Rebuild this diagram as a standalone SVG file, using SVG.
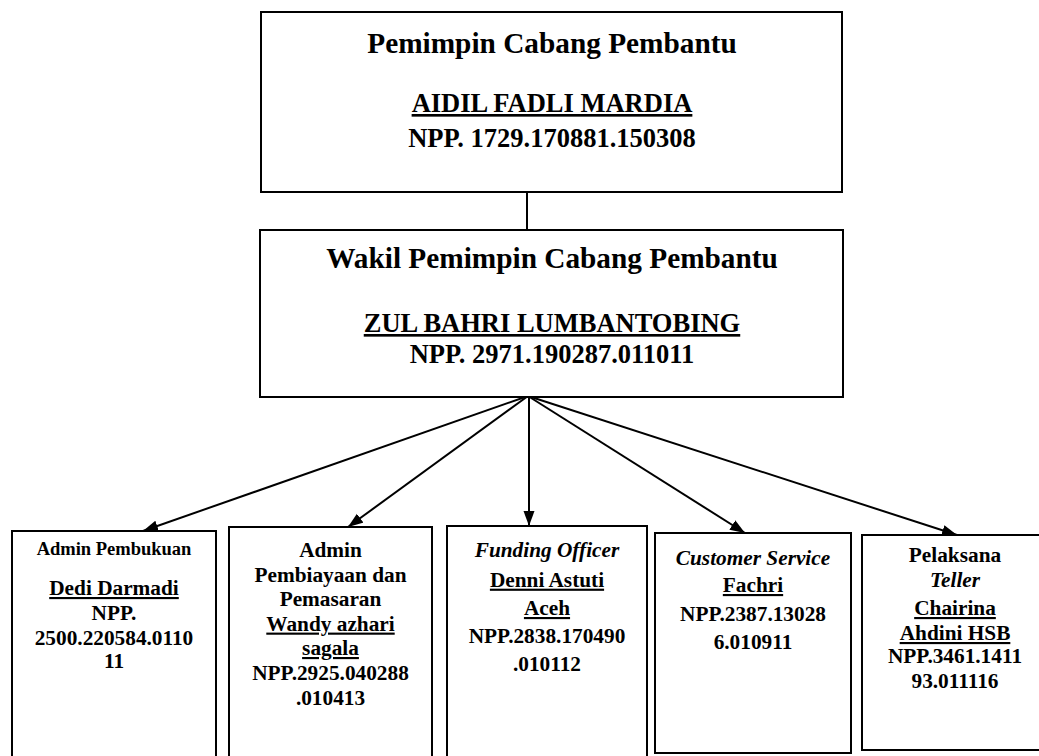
<svg xmlns="http://www.w3.org/2000/svg" width="1039" height="756" viewBox="0 0 1039 756">
<defs>
<style>
.box{fill:#fff;stroke:#000;stroke-width:2}
.t{font-family:"Liberation Serif","Times New Roman",serif;font-weight:bold;fill:#000;text-anchor:middle}
.big{font-size:29.3px}
.mid{font-size:26.5px}
.sm{font-size:21.3px}
.xs{font-size:18.5px}
.u{text-decoration:underline}
.i{font-style:italic}
.c{stroke:#000;stroke-width:2;fill:none}
</style>
<marker id="ah" markerUnits="userSpaceOnUse" markerWidth="16" markerHeight="12" refX="15" refY="5.5" orient="auto">
<path d="M0,0 L15,5.5 L0,11 z" fill="#000"/>
</marker>
</defs>
<g id="connectors">
<line class="c" x1="527" y1="192" x2="527" y2="230"/>
<line class="c" x1="528" y1="396" x2="143" y2="531" marker-end="url(#ah)"/>
<line class="c" x1="528" y1="396" x2="348" y2="527" marker-end="url(#ah)"/>
<line class="c" x1="529" y1="387" x2="529" y2="526" marker-end="url(#ah)"/>
<line class="c" x1="528" y1="396" x2="745" y2="533" marker-end="url(#ah)"/>
<line class="c" x1="528" y1="396" x2="957" y2="535" marker-end="url(#ah)"/>
<path d="M531,397 L537,391 L535,397 z" fill="#000"/>
</g>
<g id="pimpinan">
<rect class="box" x="261" y="12" width="581" height="180"/>
<text class="t big" x="552" y="53">Pemimpin Cabang Pembantu</text>
<text class="t mid u" x="552" y="112">AIDIL FADLI MARDIA</text>
<text class="t mid" x="552" y="147">NPP. 1729.170881.150308</text>
</g>
<g id="wakil">
<rect class="box" x="260" y="230" width="583" height="167"/>
<text class="t big" x="552" y="268">Wakil Pemimpin Cabang Pembantu</text>
<text class="t mid u" x="552" y="332">ZUL BAHRI LUMBANTOBING</text>
<text class="t mid" x="552" y="363">NPP. 2971.190287.011011</text>
</g>
<g id="admin-pembukuan">
<rect class="box" x="12" y="531" width="204" height="235"/>
<text class="t xs" x="114" y="555">Admin Pembukuan</text>
<text class="t sm u" x="114" y="595">Dedi Darmadi</text>
<text class="t sm" x="114" y="620">NPP.</text>
<text class="t sm" x="114" y="645">2500.220584.0110</text>
<text class="t sm" x="114" y="668">11</text>
</g>
<g id="admin-pembiayaan">
<rect class="box" x="229" y="527" width="203" height="239"/>
<text class="t sm" x="330.5" y="557">Admin</text>
<text class="t sm" x="330.5" y="581.6">Pembiayaan dan</text>
<text class="t sm" x="330.5" y="606">Pemasaran</text>
<text class="t sm u" x="330.5" y="630.6">Wandy azhari</text>
<text class="t sm u" x="330.5" y="655">sagala</text>
<text class="t sm" x="330.5" y="680">NPP.2925.040288</text>
<text class="t sm" x="330.5" y="704.6">.010413</text>
</g>
<g id="funding-officer">
<rect class="box" x="447" y="526" width="200" height="240"/>
<text class="t sm i" x="547" y="557">Funding Officer</text>
<text class="t sm u" x="547" y="586.7">Denni Astuti</text>
<text class="t sm u" x="547" y="615">Aceh</text>
<text class="t sm" x="547" y="643">NPP.2838.170490</text>
<text class="t sm" x="547" y="671">.010112</text>
</g>
<g id="customer-service">
<rect class="box" x="655" y="533" width="196" height="220"/>
<text class="t sm i" x="753" y="565">Customer Service</text>
<text class="t sm u" x="753" y="592">Fachri</text>
<text class="t sm" x="753" y="621">NPP.2387.13028</text>
<text class="t sm" x="753" y="649">6.010911</text>
</g>
<g id="teller">
<rect class="box" x="862" y="535" width="186" height="215"/>
<text class="t sm" x="955" y="562">Pelaksana</text>
<text class="t sm i" x="955" y="587">Teller</text>
<text class="t sm u" x="955" y="615">Chairina</text>
<text class="t sm u" x="955" y="640">Ahdini HSB</text>
<text class="t sm" x="955" y="663">NPP.3461.1411</text>
<text class="t sm" x="955" y="688">93.011116</text>
</g>
</svg>
